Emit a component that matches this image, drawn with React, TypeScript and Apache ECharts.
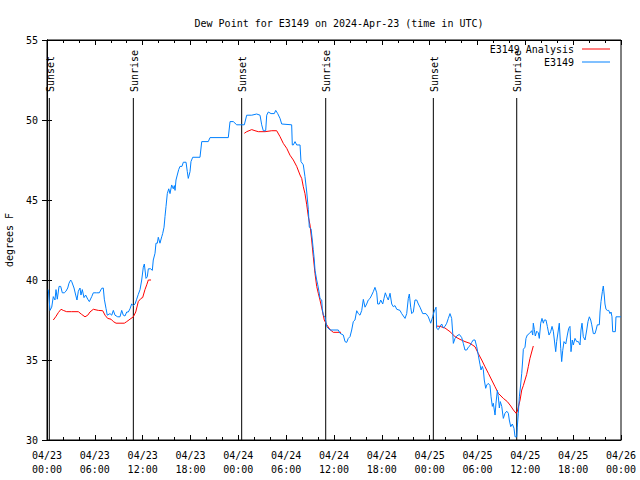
import React, { useEffect, useRef } from "react";
import * as echarts from "echarts";

// Hours since 2024-04-23 00:00 UTC
const blueHours = [
  0.16, 0.38, 0.59, 0.79, 1.0, 1.13, 1.29, 1.51, 1.72, 1.92, 2.17, 2.38, 2.6, 2.76, 2.97, 3.1, 3.39, 3.6, 3.76, 3.93,
  4.14, 4.26, 4.43, 4.64, 4.85, 5.11, 5.31, 5.61, 5.81, 6.23, 6.56, 6.86, 7.06, 7.19, 7.4, 7.56, 7.9, 8.12, 8.32, 8.53,
  8.87, 9.16, 9.37, 9.57, 9.78, 10.0, 10.2, 10.41, 10.62, 10.83, 11.04, 11.25, 11.45, 11.67, 11.88, 12.08, 12.21, 12.42,
  12.58, 12.71, 13.01, 13.21, 13.33, 13.55, 13.67, 13.84, 13.96, 14.17, 14.39, 14.51, 14.68, 14.8, 14.93, 15.09, 15.27,
  15.43, 15.64, 15.84, 15.97, 16.06, 16.18, 16.34, 16.52, 16.68, 16.93, 17.1, 17.44, 17.6, 17.72, 17.94, 18.06, 18.28,
  19.19, 19.41, 20.23, 20.45, 22.74, 22.96, 23.37, 23.58, 23.8, 24.75, 25.05, 25.68, 26.3, 26.72, 26.93, 27.13, 27.43,
  27.56, 27.76, 28.1, 28.51, 28.69, 28.94, 29.23, 29.44, 30.69, 30.77, 30.9, 31.11, 31.32, 31.74, 31.86, 32.15, 32.36,
  32.58, 32.78, 32.9, 33.12, 33.28, 33.4, 33.53, 33.62, 33.83, 33.96, 34.12, 34.24, 34.46, 34.53, 34.66, 34.87, 35.09,
  35.5, 36.54, 36.75, 37.17, 37.38, 37.59, 37.79, 38.01, 38.22, 38.42, 38.63, 38.85, 39.05, 39.26, 39.48, 39.68, 39.89,
  40.1, 40.3, 40.52, 40.73, 40.93, 41.14, 41.36, 41.48, 41.68, 41.86, 42.11, 42.27, 42.44, 42.61, 42.81, 43.03, 43.24,
  43.44, 43.65, 43.87, 44.28, 44.49, 44.91, 45.12, 45.32, 45.45, 45.62, 45.75, 45.95, 46.16, 46.37, 46.58, 46.79, 47.13,
  47.54, 47.83, 48.13, 48.38, 48.54, 48.8, 48.88, 49.08, 49.3, 49.51, 49.71, 49.92, 50.14, 50.34, 50.55, 50.76, 50.89,
  50.97, 51.18, 51.39, 51.72, 52.02, 52.22, 52.43, 52.65, 52.85, 53.06, 53.27, 53.47, 53.69, 53.9, 54.1, 54.32, 54.44,
  54.6, 54.73, 54.85, 55.03, 55.16, 55.36, 55.57, 55.7, 55.86, 55.98, 56.2, 56.32, 56.49, 56.61, 56.74, 56.86, 57.04,
  57.24, 57.45, 57.67, 57.87, 57.99, 58.17, 58.37, 58.58, 58.71, 58.92, 58.99, 59.12, 59.25, 59.42, 59.55, 59.67, 59.75,
  59.96, 60.08, 60.25, 60.5, 60.8, 60.93, 61.0, 61.13, 61.25, 61.43, 61.63, 61.75, 61.93, 62.09, 62.26, 62.38, 62.59,
  62.76, 62.97, 63.18, 63.35, 63.51, 63.64, 63.81, 63.93, 64.14, 64.26, 64.44, 64.56, 64.69, 64.85, 65.07, 65.27, 65.44,
  65.6, 65.73, 65.89, 66.02, 66.23, 66.44, 66.65, 66.86, 66.98, 67.11, 67.27, 67.49, 67.7, 67.86, 68.03, 68.2, 68.33,
  68.53, 68.74, 68.87, 69.03, 69.28, 69.37, 69.49, 69.66, 69.78, 69.91, 69.99, 70.12, 70.28, 70.46, 70.62, 70.75, 70.87,
  70.96, 71.29, 71.37, 71.87, 72.0,
];
const blueDew = [
  39.4, 38.1, 38.3, 38.96, 38.75, 39.4, 38.8, 39.6, 39.6, 39.2, 39.2, 39.3, 39.5, 39.8, 40.0, 39.9, 39.5, 39.06, 38.75, 39.3,
  39.5, 39.06, 39.4, 38.9, 39.06, 38.8, 38.65, 38.96, 39.2, 39.2, 39.2, 39.48, 39.5, 38.8, 38.23, 37.8, 37.9, 37.8, 38.1, 37.8,
  37.7, 37.7, 38.1, 37.8, 37.75, 38.0, 38.0, 38.2, 38.5, 38.4, 38.5, 38.8, 39.1, 39.4, 40.0, 40.8, 41.0, 40.1,
  40.2, 40.7, 40.7, 40.6, 41.25, 41.67, 42.3, 42.3, 42.67, 42.3, 42.7, 42.9, 43.3, 43.96, 44.6, 45.4, 45.7,
  45.4, 45.94, 45.7, 45.9, 45.6, 46.25, 46.56, 46.9, 47.1, 47.1, 47.36, 47.36, 46.77, 46.35, 46.77, 47.4, 47.67,
  47.67, 48.65, 48.65, 48.9, 48.9, 49.9, 49.9, 49.8, 49.7, 49.7, 50.3, 50.3, 50.375, 50.3, 49.7, 49.33, 49.33,
  50.3, 50.5, 50.4, 50.4, 50.6, 50.4, 50.1, 49.75, 49.7, 48.44, 48.44, 48.65, 48.44, 48.44, 47.4, 47.2, 46.46,
  45.5, 44.4, 43.3, 43.2, 42.5, 41.9, 41.25, 40.6, 40.0, 39.7, 39.27, 38.85, 38.75, 38.2, 37.8, 37.7, 37.08,
  36.875, 36.875, 36.67, 36.56, 36.15, 36.1, 36.35, 36.46, 36.875, 37.4, 37.5, 38.08, 37.9, 37.8, 38.1, 38.79, 38.3,
  38.5, 38.75, 38.85, 39.06, 39.27, 39.54, 39.2, 38.5, 38.5, 38.75, 38.5, 38.85, 39.2, 38.96, 38.75, 39.17, 38.5,
  38.33, 38.4, 38.17, 38.1, 37.9, 37.6, 37.9, 38.85, 39.125, 38.3, 37.9, 38.0, 38.75, 38.75, 38.5, 38.3, 37.9,
  37.9, 37.7, 37.3, 37.7, 38.0, 38.3, 36.98, 36.9, 37.1, 37.25, 37.0, 37.1, 37.3, 37.6, 37.9, 37.6, 36.67,
  36.04, 36.35, 36.5, 36.6, 36.4, 36.04, 35.625, 35.625, 35.8, 35.9, 36.1, 36.25, 36.25, 35.83, 35.3, 34.7, 34.375,
  34.6, 34.4, 33.75, 33.23, 33.44, 33.54, 33.4, 32.7, 32.1, 32.3, 31.56, 32.3, 33.1, 32.7, 32.0, 32.4, 32.1,
  31.35, 31.67, 31.8, 31.67, 31.25, 30.83, 31.0, 30.73, 30.2, 30.2, 30.8, 31.67, 32.7, 33.5, 34.17, 35.0, 35.67,
  35.8, 36.35, 36.56, 36.65, 36.83, 36.56, 37.3, 36.9, 36.5, 36.8, 36.7, 36.35, 37.3, 37.6, 37.3, 37.5, 37.5,
  37.1, 36.56, 36.77, 37.1, 36.8, 36.25, 35.52, 36.15, 36.875, 37.3, 35.73, 34.9, 35.6, 36.15, 36.0, 36.56, 36.98,
  37.1, 35.52, 36.25, 35.94, 36.35, 36.15, 36.15, 35.94, 36.875, 37.3, 36.46, 36.25, 36.875, 37.4, 37.7, 37.5, 37.2,
  36.65, 36.65, 36.875, 37.2, 37.2, 38.0, 38.65, 39.27, 39.625, 39.0, 38.5, 38.17, 38.1, 38.1, 37.9, 38.0, 37.7,
  36.77, 36.77, 37.7, 37.7, 37.7,
];

const analysis1Hours = [0.79, 1.09, 1.42, 1.76, 2.04, 2.47, 3.1, 3.93, 4.35, 4.77, 5.11, 5.39, 5.81, 6.44, 6.99, 7.28, 7.61, 8.03, 8.32, 8.66, 9.28, 9.7, 10.0, 10.41, 10.83, 11.13, 11.45, 11.79, 12.0, 12.29, 12.51, 12.71, 13.05];
const analysis1Dew = [37.5, 37.7, 37.96, 38.17, 38.1, 38.02, 38.02, 38.02, 37.85, 37.7, 37.8, 38.0, 38.17, 38.1, 38.08, 37.8, 37.6, 37.55, 37.4, 37.3, 37.3, 37.3, 37.4, 37.55, 37.7, 38.0, 38.65, 38.85, 38.9, 39.4, 39.7, 40.0, 40.0];

const analysis2Hours = [24.75, 25.05, 25.68, 26.09, 26.51, 27.35, 28.19, 28.81, 29.23, 29.64, 30.07, 30.48, 30.9, 31.32, 31.74, 31.95, 32.15, 32.36, 32.58, 32.78, 32.99, 33.2, 33.4, 33.62, 33.83, 34.03, 34.24, 34.53, 34.78, 35.09, 35.5, 35.91, 36.88];
const analysis2Dew = [49.17, 49.27, 49.4, 49.33, 49.27, 49.27, 49.33, 49.33, 48.96, 48.54, 48.23, 47.8, 47.5, 47.1, 46.56, 46.35, 45.83, 45.4, 44.7, 43.96, 43.44, 42.5, 41.46, 40.4, 39.6, 39.17, 38.75, 38.1, 37.5, 37.2, 36.9, 36.73, 36.73];

const analysis3Hours = [48.8, 49.3, 49.92, 50.55, 51.18, 51.8, 52.43, 53.06, 53.69, 54.1, 54.53, 54.94, 55.36, 55.78, 56.2, 56.61, 57.24, 57.74, 58.17, 58.5, 58.84, 59.0, 59.34, 59.55, 59.75, 59.96, 60.17, 60.37, 60.58, 61.0];
const analysis3Dew = [37.125, 37.1, 37.0, 36.77, 36.46, 36.29, 36.15, 36.04, 35.83, 35.4, 35.0, 34.58, 34.17, 33.75, 33.33, 32.92, 32.6, 32.4, 32.125, 31.875, 31.67, 31.8, 32.5, 33.125, 33.4, 33.75, 34.1, 34.58, 35.1, 35.875];

const sunHours = [0.29, 10.83, 24.42, 34.96, 48.46, 58.92];
const sunLabels = ["Sunset", "Sunrise", "Sunset", "Sunrise", "Sunset", "Sunrise"];

const xTickDays = ["04/23", "04/24", "04/25", "04/26"];

const FONT = "DejaVu Sans Mono";
const BLUE = "#0080ff";
const RED = "#ff0000";

const zip = (xs: number[], ys: number[]) => xs.map((x, i) => [x, ys[i]]);

export default function App() {
  const ref = useRef<HTMLDivElement>(null);
  useEffect(() => {
    if (!ref.current) return;
    const chart = echarts.init(ref.current, null, { renderer: "svg" });
    const tickLabel = (h: number) => {
      const d = xTickDays[Math.floor(h / 24)];
      const hh = String(Math.round(h % 24)).padStart(2, "0");
      return `${d}\n${hh}:00`;
    };
    const axisLine = { show: true, lineStyle: { color: "#000", width: 1 } };
    const redSeries = (data: number[][]) => ({
      type: "line",
      name: "E3149 Analysis",
      data,
      symbol: "none",
      lineStyle: { color: RED, width: 1 },
      itemStyle: { color: RED },
      z: 3,
    });
    const legendBase = {
      right: 30,
      align: "right",
      icon: "rect",
      itemWidth: 28,
      itemHeight: 1,
      padding: 0,
      textStyle: { fontFamily: FONT, fontSize: 10, color: "#000", padding: [0, 3, 0, 0] },
    };
    chart.setOption({
      animation: false,
      backgroundColor: "#fff",
      title: {
        text: "Dew Point for E3149 on 2024-Apr-23 (time in UTC)",
        left: 334,
        textAlign: "center",
        top: 13,
        textStyle: { fontFamily: FONT, fontSize: 10, fontWeight: "normal", color: "#000" },
      },
      legend: [
        { ...legendBase, data: ["E3149 Analysis"], top: 44 },
        { ...legendBase, data: ["E3149"], top: 57 },
      ],
      grid: {
        left: 47,
        top: 40,
        width: 574,
        height: 400,
        show: true,
        borderColor: "#000",
        borderWidth: 1,
        containLabel: false,
        outerBoundsMode: "none",
      },
      xAxis: [
        {
          type: "value",
          min: 0,
          max: 72,
          interval: 6,
          position: "bottom",
          axisLine,
          axisTick: { show: true, inside: true, length: 5, lineStyle: { color: "#000" } },
          minorTick: { show: true, splitNumber: 3, length: 3, lineStyle: { color: "#000" } },
          splitLine: { show: false },
          axisLabel: {
            formatter: tickLabel,
            fontFamily: FONT,
            fontSize: 10,
            color: "#000",
            lineHeight: 14,
            margin: 8,
            showMinLabel: true,
            showMaxLabel: true,
          },
        },
        {
          type: "value",
          min: 0,
          max: 72,
          interval: 6,
          position: "top",
          axisLine,
          axisTick: { show: true, inside: true, length: 5, lineStyle: { color: "#000" } },
          minorTick: { show: true, splitNumber: 3, length: 3, lineStyle: { color: "#000" } },
          splitLine: { show: false },
          axisLabel: { show: false },
        },
      ],
      yAxis: [
        {
          type: "value",
          min: 30,
          max: 55,
          interval: 5,
          position: "left",
          name: "degrees F",
          nameLocation: "middle",
          nameRotate: 90,
          nameGap: 33,
          nameTextStyle: { fontFamily: FONT, fontSize: 10, color: "#000" },
          axisLine,
          axisTick: { show: true, inside: true, length: 5, lineStyle: { color: "#000" } },
          splitLine: { show: false },
          axisLabel: { fontFamily: FONT, fontSize: 10, color: "#000", margin: 9 },
        },
        {
          type: "value",
          min: 30,
          max: 55,
          interval: 5,
          position: "right",
          axisLine,
          axisTick: { show: true, inside: true, length: 5, lineStyle: { color: "#000" } },
          splitLine: { show: false },
          axisLabel: { show: false },
        },
      ],
      series: [
        {
          type: "custom",
          name: "sun",
          data: sunHours.map((h) => [h]),
          silent: true,
          z: 1,
          renderItem: (params: any, api: any) => {
            const h = api.value(0);
            const bottom = api.coord([h, 30]);
            const top = api.coord([h, 51.375]);
            return {
              type: "group",
              children: [
                {
                  type: "line",
                  shape: { x1: bottom[0], y1: bottom[1], x2: top[0], y2: top[1] },
                  style: { stroke: "#000", lineWidth: 1 },
                },
                {
                  type: "text",
                  x: top[0] + 1,
                  y: top[1] - 6,
                  rotation: Math.PI / 2,
                  style: {
                    text: sunLabels[params.dataIndex],
                    fontFamily: FONT,
                    fontSize: 10,
                    fill: "#000",
                    textAlign: "left",
                    textVerticalAlign: "middle",
                  },
                },
              ],
            };
          },
        },
        redSeries(zip(analysis1Hours, analysis1Dew)),
        redSeries(zip(analysis2Hours, analysis2Dew)),
        redSeries(zip(analysis3Hours, analysis3Dew)),
        {
          type: "line",
          name: "E3149",
          data: zip(blueHours, blueDew),
          symbol: "none",
          lineStyle: { color: BLUE, width: 1 },
          itemStyle: { color: BLUE },
          z: 4,
        },
      ],
    });
    return () => chart.dispose();
  }, []);
  return <div ref={ref} style={{ width: 640, height: 480, position: "absolute", left: 0, top: 0 }} />;
}
